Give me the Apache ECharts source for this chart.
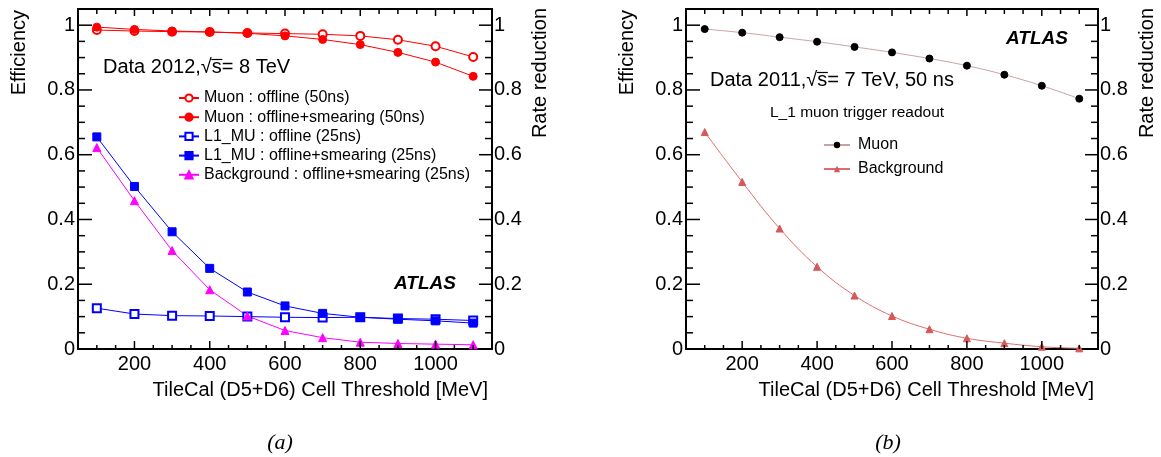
<!DOCTYPE html>
<html>
<head>
<meta charset="utf-8">
<script src="https://cdn.jsdelivr.net/npm/echarts@6/dist/echarts.min.js"></script>
<style>
  html, body { margin: 0; padding: 0; background: #fff; }
  #chart { width: 1161px; height: 457px; }
</style>
</head>
<body>
<div id="chart"></div>
<script>
// Cell thresholds [MeV]
const thresholds = [100, 200, 300, 400, 500, 600, 700, 800, 900, 1000, 1100];

// (a) Data 2012
const muonOffline50 = [0.985, 0.982, 0.980, 0.979, 0.976, 0.974, 0.972, 0.967, 0.955, 0.935, 0.902];
const muonSmear50   = [0.994, 0.987, 0.982, 0.979, 0.975, 0.967, 0.956, 0.940, 0.916, 0.886, 0.842];
const l1Offline25   = [0.126, 0.108, 0.103, 0.102, 0.100, 0.098, 0.097, 0.098, 0.094, 0.092, 0.088];
const l1Smear25     = [0.655, 0.502, 0.362, 0.249, 0.176, 0.133, 0.110, 0.098, 0.092, 0.087, 0.080];
const bkgSmear25    = [0.622, 0.458, 0.304, 0.183, 0.102, 0.057, 0.035, 0.021, 0.017, 0.015, 0.013];

// (b) Data 2011
const muon2011 = [0.988, 0.977, 0.963, 0.949, 0.933, 0.916, 0.897, 0.875, 0.847, 0.813, 0.773];
const bkg2011  = [0.670, 0.516, 0.372, 0.254, 0.165, 0.102, 0.061, 0.033, 0.018, 0.007, 0.002];

// Axis ticks and tick labels
const xMajorTicks = [200, 400, 600, 800, 1000];
const xMinorTicks = [100, 150, 250, 300, 350, 450, 500, 550, 650, 700, 750, 850, 900, 950, 1050, 1100];
const yMajorTicks = [0, 0.2, 0.4, 0.6, 0.8, 1];
const yMinorTicks = [0.05, 0.1, 0.15, 0.25, 0.3, 0.35, 0.45, 0.5, 0.55, 0.65, 0.7, 0.75, 0.85, 0.9, 0.95];

const FONT = '"Liberation Sans", Arial, Helvetica, sans-serif';
const X_MIN = 50, X_MAX = 1150, Y_MIN = 0, Y_MAX = 1.05;

const pairs = (vals) => thresholds.map((t, i) => [t, vals[i]]);
const plain = (v) => String(v);

// Framed panel: an axis line on every side, labels on bottom, left and right
function panelAxes(gridIndex) {
  const common = { gridIndex, type: 'value', splitLine: { show: false }, axisTick: { show: false } };
  const line = { show: true, onZero: false, lineStyle: { color: '#000', width: 2 } };
  const label = (vals, margin) => ({ customValues: vals, formatter: plain, fontSize: 20, color: '#000', margin, fontFamily: FONT });
  const xs = [
    Object.assign({}, common, { position: 'bottom', min: X_MIN, max: X_MAX, axisLine: line, axisLabel: label(xMajorTicks, 5) }),
    Object.assign({}, common, { position: 'top', min: X_MIN, max: X_MAX, axisLine: line, axisLabel: { show: false } })
  ];
  const ys = [
    Object.assign({}, common, { position: 'left', min: Y_MIN, max: Y_MAX, axisLine: line, axisLabel: label(yMajorTicks, 3) }),
    Object.assign({}, common, { position: 'right', min: Y_MIN, max: Y_MAX, axisLine: line, axisLabel: label(yMajorTicks, 2) })
  ];
  return { xs, ys };
}

const pa = panelAxes(0);
const pb = panelAxes(1);

// Inward tick marks on all four sides, placed through the panel's own axes
function tickSeries(axisIdx) {
  return {
    type: 'custom', xAxisIndex: axisIdx, yAxisIndex: axisIdx, clip: false, z: 10,
    data: [[X_MIN, Y_MIN]],
    renderItem: function (params, api) {
      const kids = [];
      const seg = (x1, y1, x2, y2) => kids.push({ type: 'line', shape: { x1, y1, x2, y2 },
        style: { stroke: '#000', lineWidth: 1.5 } });
      xMajorTicks.forEach(v => {
        const b = api.coord([v, Y_MIN]), t = api.coord([v, Y_MAX]);
        seg(b[0], b[1], b[0], b[1] - 8); seg(t[0], t[1], t[0], t[1] + 7);
      });
      xMinorTicks.forEach(v => {
        const b = api.coord([v, Y_MIN]), t = api.coord([v, Y_MAX]);
        seg(b[0], b[1], b[0], b[1] - 4); seg(t[0], t[1], t[0], t[1] + 5);
      });
      yMajorTicks.forEach(v => {
        const l = api.coord([X_MIN, v]), r = api.coord([X_MAX, v]);
        seg(l[0], l[1], l[0] + 14, l[1]); seg(r[0], r[1], r[0] - 13, r[1]);
      });
      yMinorTicks.forEach(v => {
        const l = api.coord([X_MIN, v]), r = api.coord([X_MAX, v]);
        seg(l[0], l[1], l[0] + 7, l[1]); seg(r[0], r[1], r[0] - 7, r[1]);
      });
      return { type: 'group', children: kids };
    }
  };
}

function lineSeries(name, vals, axisIdx, color, symbol, size, extra) {
  return Object.assign({
    name, type: 'line', data: pairs(vals),
    xAxisIndex: axisIdx, yAxisIndex: axisIdx,
    symbol, symbolSize: size, showSymbol: true,
    lineStyle: { color, width: 1 },
    itemStyle: { color, borderColor: color, borderWidth: 1 },
    emphasis: { disabled: true }
  }, extra || {});
}

const namesA = [
  'Muon : offline (50ns)',
  'Muon : offline+smearing (50ns)',
  'L1_MU : offline (25ns)',
  'L1_MU : offline+smearing (25ns)',
  'Background : offline+smearing (25ns)'
];

const series = [
  tickSeries(0),
  tickSeries(2),
  lineSeries(namesA[0], muonOffline50, 0, '#ff0000', 'emptyCircle', 8),
  lineSeries(namesA[1], muonSmear50, 0, '#ff0000', 'circle', 8),
  lineSeries(namesA[2], l1Offline25, 0, '#0000ff', 'emptyRect', 8),
  lineSeries(namesA[3], l1Smear25, 0, '#0000ff', 'rect', 8),
  lineSeries(namesA[4], bkgSmear25, 0, '#ff00ff', 'triangle', 8),
  lineSeries('Muon', muon2011, 2, '#c9a3a3', 'circle', 7,
    { itemStyle: { color: '#000', borderColor: '#000' }, smooth: 0.4 }),
  lineSeries('Background', bkg2011, 2, '#df6c6c', 'triangle', 7,
    { itemStyle: { color: '#d65858', borderColor: '#d65858' }, smooth: 0.4 })
];

// Text width helper for the sqrt overline
const measureCtx = document.createElement('canvas').getContext('2d');
function textWidth(str, size) {
  measureCtx.font = size + 'px ' + FONT;
  return measureCtx.measureText(str).width;
}

function sqrtLabel(x, y, prefix, rest) {
  const full = prefix + '\u221As' + rest;
  const a = textWidth(prefix + '\u221A', 20);
  const b = textWidth(prefix + '\u221As', 20);
  return [
    { type: 'text', left: x, top: y - 10, style: { text: full, font: '20px ' + FONT, fill: '#000' } },
    { type: 'line', shape: { x1: x + a - 0.5, y1: y - 7.5, x2: x + b + 0.5, y2: y - 7.5 },
      style: { stroke: '#000', lineWidth: 1.2 } }
  ];
}

function rotatedTitle(x, y, text) {
  return { type: 'text', x, y, rotation: Math.PI / 2,
    style: { text, font: '20px ' + FONT, fill: '#000', align: 'right', verticalAlign: 'middle' } };
}

const graphic = [
  rotatedTitle(19, 10, 'Efficiency'),
  rotatedTitle(540, 8, 'Rate reduction'),
  rotatedTitle(627, 10, 'Efficiency'),
  rotatedTitle(1147, 8, 'Rate reduction'),
  { type: 'text', x: 488, y: 390, style: { text: 'TileCal (D5+D6) Cell Threshold [MeV]', font: '20px ' + FONT, fill: '#000', align: 'right', verticalAlign: 'middle' } },
  { type: 'text', x: 1094, y: 390, style: { text: 'TileCal (D5+D6) Cell Threshold [MeV]', font: '20px ' + FONT, fill: '#000', align: 'right', verticalAlign: 'middle' } },
  { type: 'text', x: 425, y: 284, style: { text: 'ATLAS', font: 'italic bold 19px ' + FONT, fill: '#000', align: 'center', verticalAlign: 'middle' } },
  { type: 'text', x: 1037, y: 39, style: { text: 'ATLAS', font: 'italic bold 19px ' + FONT, fill: '#000', align: 'center', verticalAlign: 'middle' } },
  { type: 'text', x: 770, y: 113, style: { text: 'L_1 muon trigger readout', font: '15.5px ' + FONT, fill: '#000', verticalAlign: 'middle' } },
  { type: 'text', x: 280, y: 443, style: { text: '(a)', font: 'italic 22px "Liberation Serif", "DejaVu Serif", serif', fill: '#000', align: 'center', verticalAlign: 'middle' } },
  { type: 'text', x: 888, y: 443, style: { text: '(b)', font: 'italic 22px "Liberation Serif", "DejaVu Serif", serif', fill: '#000', align: 'center', verticalAlign: 'middle' } }
].concat(sqrtLabel(103, 67, 'Data 2012,', '= 8 TeV'))
 .concat(sqrtLabel(710, 80, 'Data 2011,', '= 7 TeV, 50 ns'));

const option = {
  animation: false,
  backgroundColor: '#fff',
  grid: [
    { left: 78, top: 9, width: 414, height: 340 },
    { left: 686, top: 9, width: 412, height: 340 }
  ],
  xAxis: pa.xs.concat(pb.xs),
  yAxis: pa.ys.concat(pb.ys),
  legend: [
    { data: namesA, orient: 'vertical', left: 178, top: 90, itemWidth: 20, itemHeight: 9, itemGap: 3.2,
      selectedMode: false, padding: 0,
      textStyle: { fontSize: 16, lineHeight: 16, color: '#000', fontFamily: FONT } },
    { data: ['Muon', 'Background'], orient: 'vertical', left: 823, top: 137, itemWidth: 26, itemHeight: 8, itemGap: 8,
      selectedMode: false, padding: 0,
      textStyle: { fontSize: 16, lineHeight: 16, color: '#000', fontFamily: FONT, padding: [0, 0, 0, 3] } }
  ],
  series,
  graphic
};

const chart = echarts.init(document.getElementById('chart'));
chart.setOption(option);
</script>
</body>
</html>
